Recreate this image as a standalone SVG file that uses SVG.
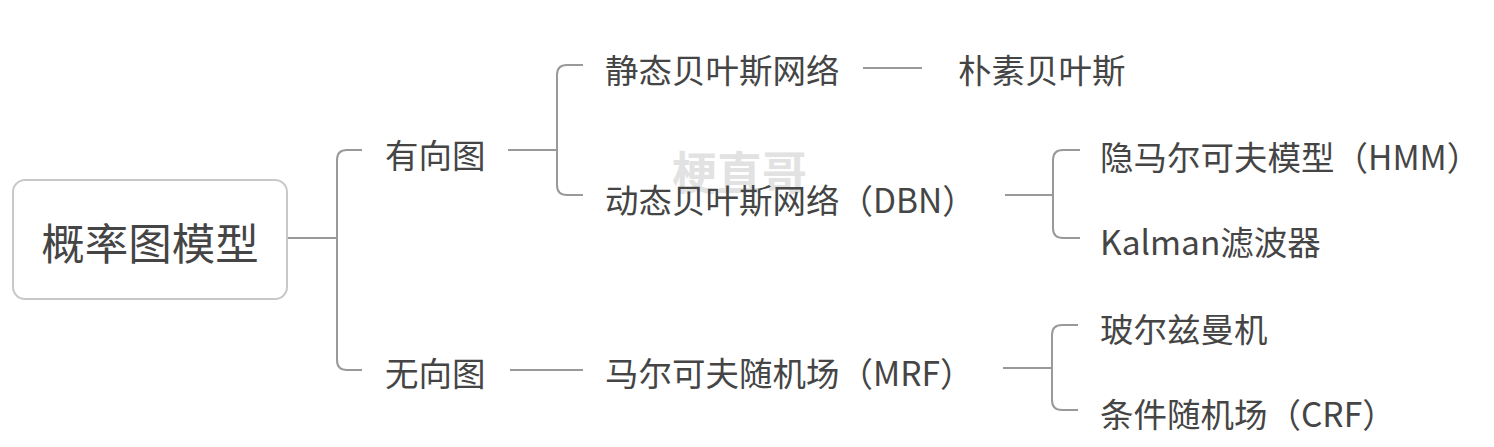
<svg xmlns="http://www.w3.org/2000/svg" width="1494" height="447" viewBox="0 0 1494 447">
<style>
text{font-family:"Noto Sans CJK SC","Noto Sans",sans-serif;fill:#454545;dominant-baseline:central}
.t{font-size:33.5px}
.c path{fill:none;stroke:#999;stroke-width:2}
.wm{font-size:45px;font-weight:bold;fill:#e2e2e2}
</style>
<rect width="1494" height="447" fill="#fff"/>
<text class="wm" x="672" y="170">梗直哥</text>
<g id="connectors" class="c">
<path d="M287,238 H337"/>
<path d="M362,150 H347 Q337,150 337,160 V360 Q337,370 347,370 H362"/>
<path d="M508,150 H557"/>
<path d="M583,65 H567 Q557,65 557,75 V185 Q557,195 567,195 H583"/>
<path d="M863,68 H922"/>
<path d="M1005,195 H1053"/>
<path d="M1080,150 H1063 Q1053,150 1053,160 V228 Q1053,238 1063,238 H1080"/>
<path d="M510,370 H583"/>
<path d="M1003,368 H1052"/>
<path d="M1078,325 H1062 Q1052,325 1052,335 V400 Q1052,410 1062,410 H1078"/>
</g>
<g id="root">
<rect x="13" y="180" width="274" height="119" rx="12" fill="#fff" stroke="#c8c8c8" stroke-width="2"/>
<text x="150" y="241" font-size="43.5" text-anchor="middle">概率图模型</text>
</g>
<g id="directed"><text class="t" x="385" y="153">有向图</text></g>
<g id="undirected"><text class="t" x="385" y="371">无向图</text></g>
<g id="static-bn"><text class="t" x="605" y="68">静态贝叶斯网络</text></g>
<g id="naive-bayes"><text class="t" x="958" y="68">朴素贝叶斯</text></g>
<g id="dbn"><text class="t" x="605" y="198">动态贝叶斯网络（DBN）</text></g>
<g id="hmm"><text class="t" x="1100" y="155">隐马尔可夫模型（HMM）</text></g>
<g id="kalman"><text class="t" x="1100" y="240">Kalman滤波器</text></g>
<g id="mrf"><text class="t" x="605" y="371">马尔可夫随机场（MRF）</text></g>
<g id="boltzmann"><text class="t" x="1100" y="327">玻尔兹曼机</text></g>
<g id="crf"><text class="t" x="1100" y="412">条件随机场（CRF）</text></g>
</svg>
